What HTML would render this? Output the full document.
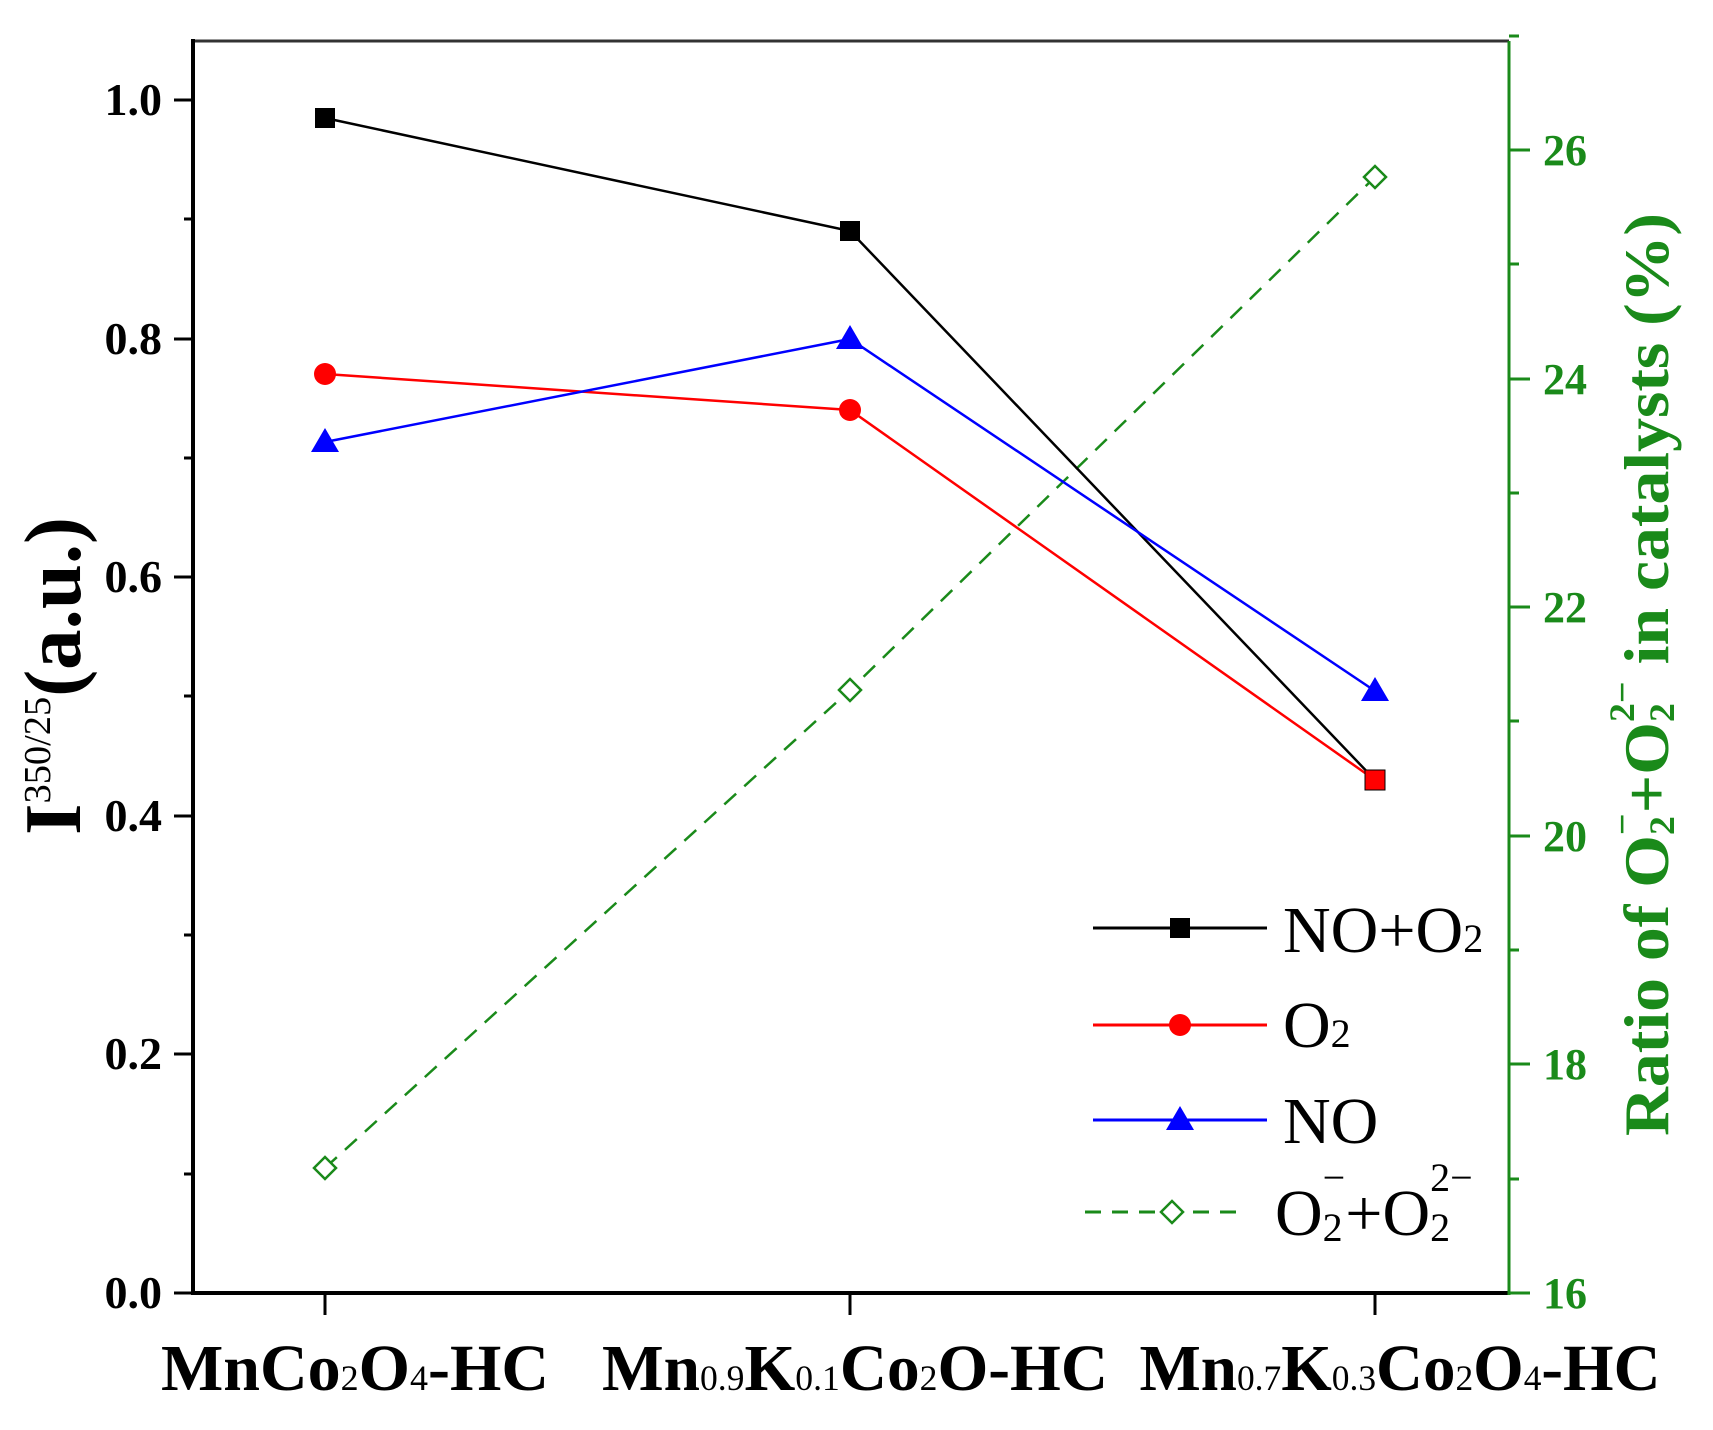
<!DOCTYPE html>
<html><head><meta charset="utf-8"><style>html,body{margin:0;padding:0;background:#fff}svg{display:block}</style></head>
<body>
<svg width="1713" height="1430" viewBox="0 0 1713 1430" xmlns="http://www.w3.org/2000/svg" font-family="Liberation Serif, serif">
<line x1="193" y1="41" x2="1509" y2="41" stroke="#333" stroke-width="3"/>
<line x1="193" y1="39" x2="193" y2="1295" stroke="#000" stroke-width="4"/>
<line x1="191" y1="1293" x2="1509" y2="1293" stroke="#000" stroke-width="4"/>
<line x1="1509" y1="41" x2="1509" y2="1295" stroke="#1a8a1a" stroke-width="3"/>
<g stroke="#000" stroke-width="3">
<line x1="174" y1="1293" x2="193" y2="1293"/><line x1="184" y1="1174" x2="193" y2="1174"/>
<line x1="174" y1="1054" x2="193" y2="1054"/><line x1="184" y1="935" x2="193" y2="935"/>
<line x1="174" y1="816" x2="193" y2="816"/><line x1="184" y1="696" x2="193" y2="696"/>
<line x1="174" y1="577" x2="193" y2="577"/><line x1="184" y1="458" x2="193" y2="458"/>
<line x1="174" y1="339" x2="193" y2="339"/><line x1="184" y1="219" x2="193" y2="219"/>
<line x1="174" y1="100" x2="193" y2="100"/>
<line x1="325" y1="1293" x2="325" y2="1315"/><line x1="850" y1="1293" x2="850" y2="1315"/><line x1="1375" y1="1293" x2="1375" y2="1315"/>
</g>
<g font-size="46" text-anchor="end" fill="#000" font-weight="bold">
<text x="162" y="1308">0.0</text><text x="162" y="1069">0.2</text><text x="162" y="831">0.4</text>
<text x="162" y="592">0.6</text><text x="162" y="354">0.8</text><text x="162" y="115">1.0</text>
</g>
<g stroke="#1a8a1a" stroke-width="3">
<line x1="1509" y1="1293" x2="1530" y2="1293"/><line x1="1509" y1="1179" x2="1519" y2="1179"/>
<line x1="1509" y1="1064" x2="1530" y2="1064"/><line x1="1509" y1="950" x2="1519" y2="950"/>
<line x1="1509" y1="836" x2="1530" y2="836"/><line x1="1509" y1="721" x2="1519" y2="721"/>
<line x1="1509" y1="607" x2="1530" y2="607"/><line x1="1509" y1="493" x2="1519" y2="493"/>
<line x1="1509" y1="379" x2="1530" y2="379"/><line x1="1509" y1="264" x2="1519" y2="264"/>
<line x1="1509" y1="150" x2="1530" y2="150"/><line x1="1509" y1="36" x2="1519" y2="36"/>
</g>
<g font-size="44" fill="#1a8a1a" font-weight="bold">
<text x="1543" y="1308">16</text><text x="1543" y="1079">18</text><text x="1543" y="851">20</text>
<text x="1543" y="622">22</text><text x="1543" y="394">24</text><text x="1543" y="165">26</text>
</g>
<polyline points="325,1168 850,690 1375,177" fill="none" stroke="#1a8a1a" stroke-width="2.5" stroke-dasharray="16,11"/>
<polyline points="325,118 850,231 1375,780" fill="none" stroke="#000" stroke-width="2.5"/>
<polyline points="325,374 850,410 1375,780" fill="none" stroke="#f00" stroke-width="2.5"/>
<polyline points="325,442 850,339 1375,691" fill="none" stroke="#00f" stroke-width="2.5"/>
<rect x="315" y="108" width="20" height="20" fill="#000"/><rect x="840" y="221" width="20" height="20" fill="#000"/>
<circle cx="325" cy="374" r="11" fill="#f00"/><circle cx="850" cy="410" r="11" fill="#f00"/>
<polygon points="325,428 339,452 311,452" fill="#00f"/><polygon points="850,325 864,349 836,349" fill="#00f"/><polygon points="1375,677 1389,701 1361,701" fill="#00f"/>
<rect x="1365" y="770" width="20" height="20" fill="#f00" stroke="#000" stroke-width="1"/>
<g fill="#fff" stroke="#1a8a1a" stroke-width="2.5">
<polygon points="325,1157 336,1168 325,1179 314,1168"/><polygon points="850,679 861,690 850,701 839,690"/><polygon points="1375,166 1386,177 1375,188 1364,177"/>
</g>
<line x1="1093" y1="928" x2="1267" y2="928" stroke="#000" stroke-width="3"/><rect x="1170" y="918" width="20" height="20" fill="#000"/>
<line x1="1093" y1="1025" x2="1267" y2="1025" stroke="#f00" stroke-width="3"/><circle cx="1180" cy="1025" r="11" fill="#f00"/>
<line x1="1093" y1="1120" x2="1267" y2="1120" stroke="#00f" stroke-width="3"/><polygon points="1180,1106 1194,1130 1166,1130" fill="#00f"/>
<line x1="1085" y1="1212" x2="1245" y2="1212" stroke="#1a8a1a" stroke-width="3" stroke-dasharray="16,11"/>
<polygon points="1172,1201 1183,1212 1172,1223 1161,1212" fill="#fff" stroke="#1a8a1a" stroke-width="2.5"/>
<g font-size="66" fill="#000">
<text x="1283" y="952">NO+O<tspan font-size="40">2</tspan></text>
<text x="1283" y="1047">O<tspan font-size="40">2</tspan></text>
<text x="1283" y="1143">NO</text>
<text x="1275" y="1235">O<tspan font-size="40" dy="6">2</tspan><tspan font-size="40" dx="-20" dy="-50">−</tspan><tspan dy="44">+O</tspan><tspan font-size="40" dy="6">2</tspan><tspan font-size="40" dx="-20" dy="-50">2−</tspan></text>
</g>
<g font-size="66" font-weight="bold" fill="#000" text-anchor="middle">
<text x="355" y="1390" textLength="388" lengthAdjust="spacingAndGlyphs">MnCo<tspan font-size="36" font-weight="normal">2</tspan>O<tspan font-size="36" font-weight="normal">4</tspan>-HC</text>
<text x="855" y="1390" textLength="506" lengthAdjust="spacingAndGlyphs">Mn<tspan font-size="36" font-weight="normal">0.9</tspan>K<tspan font-size="36" font-weight="normal">0.1</tspan>Co<tspan font-size="36" font-weight="normal">2</tspan>O-HC</text>
<text x="1400" y="1390" textLength="521" lengthAdjust="spacingAndGlyphs">Mn<tspan font-size="36" font-weight="normal">0.7</tspan>K<tspan font-size="36" font-weight="normal">0.3</tspan>Co<tspan font-size="36" font-weight="normal">2</tspan>O<tspan font-size="36" font-weight="normal">4</tspan>-HC</text>
</g>
<text transform="translate(80,835) rotate(-90)" font-size="80" font-weight="bold" fill="#000" textLength="318" lengthAdjust="spacingAndGlyphs">I<tspan font-size="38" font-weight="normal" dy="-30">350/25</tspan><tspan dy="30">(a.u.)</tspan></text>
<text transform="translate(1668,1136) rotate(-90)" font-size="64" font-weight="bold" fill="#1a8a1a" textLength="923" lengthAdjust="spacingAndGlyphs">Ratio of O<tspan font-size="36" dy="6">2</tspan><tspan font-size="36" dx="-18" dy="-40">−</tspan><tspan dy="34">+O</tspan><tspan font-size="36" dy="6">2</tspan><tspan font-size="36" dx="-18" dy="-40">2−</tspan><tspan dy="34"> in catalysts (%)</tspan></text>
</svg>
</body></html>
